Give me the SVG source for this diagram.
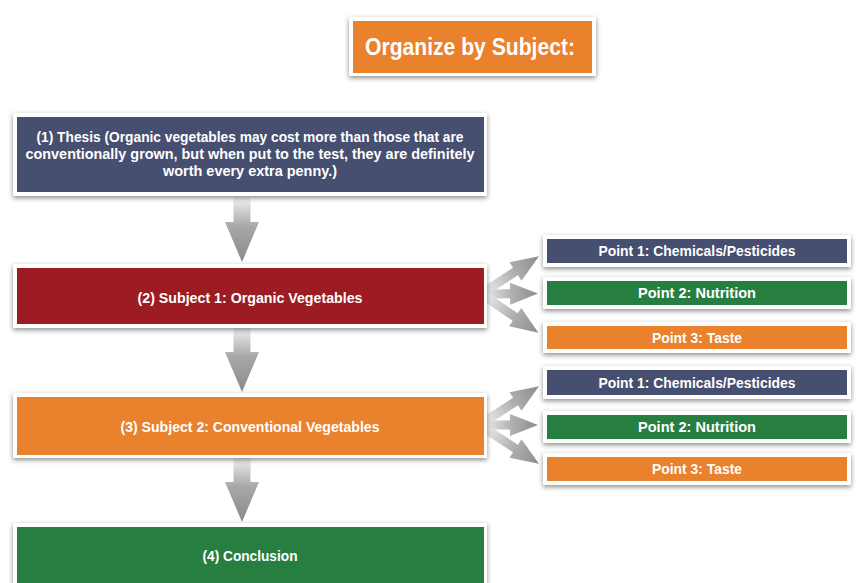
<svg xmlns="http://www.w3.org/2000/svg" width="856" height="583" viewBox="0 0 856 583">
<defs>
<filter id="sh" x="-10%" y="-30%" width="120%" height="160%">
<feDropShadow dx="0" dy="2" stdDeviation="2.5" flood-color="#000" flood-opacity="0.45"/>
</filter>
<linearGradient id="gv" x1="0" y1="0" x2="0" y2="1">
<stop offset="0" stop-color="#f2f2f2"/>
<stop offset="0.45" stop-color="#a8a8a8"/>
<stop offset="1" stop-color="#8a8a8a"/>
</linearGradient>
<linearGradient id="gh" x1="0" y1="0" x2="1" y2="0">
<stop offset="0" stop-color="#e8e8e8"/>
<stop offset="0.5" stop-color="#b0b0b0"/>
<stop offset="1" stop-color="#8c8c8c"/>
</linearGradient>
<path id="fan" d="M0,-4.5 L34,-4.5 L34,-11 L62,0 L34,11 L34,4.5 L0,4.5 Z"/>
<path id="fanm" d="M0,-4.5 L24,-4.5 L24,-11 L52,0 L24,11 L24,4.5 L0,4.5 Z"/>
<path id="down" d="M-8.5,0 L8.5,0 L8.5,25 L17,25 L0,65 L-17,25 L-8.5,25 Z"/>
</defs>
<style>
.frame{fill:#fff;filter:url(#sh)}
.orange{fill:#E9812D}
.navy{fill:#474F70}
.red{fill:#9C1C22}
.green{fill:#277E41}
.t{font-family:"Liberation Sans",Arial,sans-serif;font-weight:bold;fill:#fff;text-anchor:middle}
.fa{fill:url(#gh)}
.da{fill:url(#gv)}
</style>
<rect width="856" height="583" fill="#fff"/>

<g id="connectors">
<use href="#down" class="da" transform="translate(242,197)"/>
<use href="#down" class="da" transform="translate(242,327)"/>
<use href="#down" class="da" transform="translate(242,457)"/>
<use href="#fan" class="fa" transform="translate(487,290) rotate(-33)"/>
<use href="#fanm" class="fa" transform="translate(486,294) rotate(-0.5)"/>
<use href="#fan" class="fa" transform="translate(487,298) rotate(34)"/>
<use href="#fan" class="fa" transform="translate(487,420) rotate(-33)"/>
<use href="#fanm" class="fa" transform="translate(486,425)"/>
<use href="#fan" class="fa" transform="translate(487,430) rotate(33)"/>
</g>

<g id="title">
<rect class="frame" x="349" y="17" width="247" height="59"/>
<rect class="orange" x="353" y="21" width="239" height="52"/>
<text class="t" x="470" y="55" font-size="23.5" textLength="210" lengthAdjust="spacingAndGlyphs">Organize by Subject:</text>
</g>

<g id="thesis">
<rect class="frame" x="13" y="113" width="474" height="83"/>
<rect class="navy" x="17" y="117" width="467" height="75"/>
<text class="t" x="250" y="142" font-size="15.5" textLength="427" lengthAdjust="spacingAndGlyphs">(1) Thesis (Organic vegetables may cost more than those that are</text>
<text class="t" x="250" y="159" font-size="15.5" textLength="449" lengthAdjust="spacingAndGlyphs">conventionally grown, but when put to the test, they are definitely</text>
<text class="t" x="250" y="176" font-size="15.5" textLength="174" lengthAdjust="spacingAndGlyphs">worth every extra penny.)</text>
</g>

<g id="subject1">
<rect class="frame" x="13" y="264" width="474" height="64"/>
<rect class="red" x="17" y="268" width="467" height="56"/>
<text class="t" x="250" y="302.5" font-size="15" textLength="225" lengthAdjust="spacingAndGlyphs">(2) Subject 1: Organic Vegetables</text>
</g>

<g id="subject2">
<rect class="frame" x="13" y="393" width="474" height="65"/>
<rect class="orange" x="17" y="397" width="467" height="58"/>
<text class="t" x="250" y="431.5" font-size="15" textLength="259" lengthAdjust="spacingAndGlyphs">(3) Subject 2: Conventional Vegetables</text>
</g>

<g id="conclusion">
<rect class="frame" x="13" y="523" width="474" height="70"/>
<rect class="green" x="17" y="527" width="467" height="66"/>
<text class="t" x="250" y="560.5" font-size="15" textLength="95" lengthAdjust="spacingAndGlyphs">(4) Conclusion</text>
</g>

<g id="s1p1">
<rect class="frame" x="543" y="235" width="308" height="32"/>
<rect class="navy" x="547" y="239" width="300" height="24"/>
<text class="t" x="697" y="256" font-size="14.5" textLength="197" lengthAdjust="spacingAndGlyphs">Point 1: Chemicals/Pesticides</text>
</g>
<g id="s1p2">
<rect class="frame" x="543" y="277" width="308" height="32"/>
<rect class="green" x="547" y="281" width="300" height="24"/>
<text class="t" x="697" y="298" font-size="14.5" textLength="118" lengthAdjust="spacingAndGlyphs">Point 2: Nutrition</text>
</g>
<g id="s1p3">
<rect class="frame" x="543" y="322" width="308" height="31"/>
<rect class="orange" x="547" y="326" width="300" height="23"/>
<text class="t" x="697" y="342.5" font-size="14.5" textLength="90" lengthAdjust="spacingAndGlyphs">Point 3: Taste</text>
</g>

<g id="s2p1">
<rect class="frame" x="543" y="366" width="308" height="33"/>
<rect class="navy" x="547" y="370" width="300" height="25"/>
<text class="t" x="697" y="387.5" font-size="14.5" textLength="197" lengthAdjust="spacingAndGlyphs">Point 1: Chemicals/Pesticides</text>
</g>
<g id="s2p2">
<rect class="frame" x="543" y="411" width="308" height="32"/>
<rect class="green" x="547" y="415" width="300" height="24"/>
<text class="t" x="697" y="432" font-size="14.5" textLength="118" lengthAdjust="spacingAndGlyphs">Point 2: Nutrition</text>
</g>
<g id="s2p3">
<rect class="frame" x="543" y="453" width="308" height="32"/>
<rect class="orange" x="547" y="457" width="300" height="24"/>
<text class="t" x="697" y="474" font-size="14.5" textLength="90" lengthAdjust="spacingAndGlyphs">Point 3: Taste</text>
</g>
</svg>
